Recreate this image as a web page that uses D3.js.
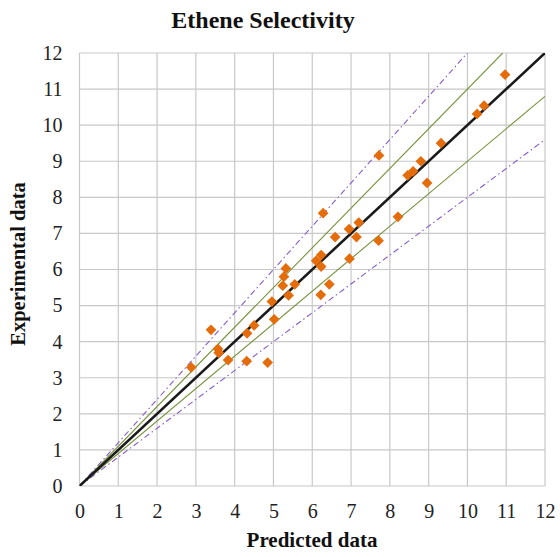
<!DOCTYPE html>
<html>
<head>
<meta charset="utf-8">
<script src="https://cdn.jsdelivr.net/npm/d3@7/dist/d3.min.js"></script>
<style>
  html, body { margin: 0; padding: 0; background: #fff; }
  svg { display: block; font-family: "Liberation Serif", "Times New Roman", serif; }
</style>
</head>
<body>
<svg id="chart" width="560" height="557"></svg>
<script>
// Predicted vs experimental ethene selectivity
const predicted = [2.88, 3.39, 3.57, 3.59, 3.83, 4.31, 4.85, 4.32, 4.50, 5.02,
                   4.96, 5.24, 5.27, 5.32, 5.39, 5.55, 6.44, 6.22, 6.10, 6.23,
                   6.23, 6.96, 6.59, 7.14, 7.71, 6.95, 7.20, 6.28, 8.21, 7.72,
                   8.96, 8.46, 8.60, 8.80, 9.32, 10.25, 10.43, 10.97];
const experimental = [3.29, 4.33, 3.80, 3.69, 3.49, 3.46, 3.42, 4.23, 4.45, 4.62,
                      5.11, 5.55, 5.80, 6.03, 5.28, 5.59, 5.59, 5.30, 6.24, 6.40,
                      6.08, 6.30, 6.90, 6.90, 6.80, 7.12, 7.30, 7.56, 7.46, 9.16,
                      8.40, 8.61, 8.72, 9.00, 9.50, 10.31, 10.54, 11.40];
const axisTicks = [0, 1, 2, 3, 4, 5, 6, 7, 8, 9, 10, 11, 12];
// Reference lines through the origin: parity, ±10 %, ±20 %
const refSlopes = [1.0, 1.1, 0.9, 1.2, 0.8];

const svg = d3.select("#chart");
const plotL = 79.5, plotR = 545, plotT = 53, plotB = 486;

const x = d3.scaleLinear().domain([0, 12]).range([plotL, plotR]);
const y = d3.scaleLinear().domain([0, 12]).range([plotB, plotT]);

// Gridlines
svg.append("g").selectAll("line").data(axisTicks).join("line")
  .attr("x1", d => x(d)).attr("x2", d => x(d))
  .attr("y1", y(0)).attr("y2", y(12))
  .attr("stroke", "#c8c8c8").attr("stroke-width", 1.2);
svg.append("g").selectAll("line").data(axisTicks).join("line")
  .attr("x1", x(0)).attr("x2", x(12))
  .attr("y1", d => y(d)).attr("y2", d => y(d))
  .attr("stroke", "#c8c8c8").attr("stroke-width", 1.2);

// Axis tick labels
const xAxis = d3.axisBottom(x).tickValues(axisTicks).tickSize(0).tickPadding(18);
const yAxis = d3.axisLeft(y).tickValues(axisTicks).tickSize(0).tickPadding(17);
const gx = svg.append("g").attr("transform", `translate(0,${plotB})`).call(xAxis);
const gy = svg.append("g").attr("transform", `translate(${plotL},0)`).call(yAxis);
[gx, gy].forEach(g => {
  g.select(".domain").remove();
  g.selectAll("text").attr("font-family", "Liberation Serif, serif")
    .attr("font-size", 20).attr("fill", "#222");
});

// Clip for reference lines
svg.append("clipPath").attr("id", "plotClip").append("rect")
  .attr("x", plotL).attr("y", plotT).attr("width", plotR - plotL).attr("height", plotB - plotT);

const lineStyle = {
  1.0: { stroke: "#1a1a1a", width: 2.6, dash: null },
  1.1: { stroke: "#77933c", width: 1.1, dash: null },
  0.9: { stroke: "#77933c", width: 1.1, dash: null },
  1.2: { stroke: "#8a5cc8", width: 1.1, dash: "6,3,1.5,3" },
  0.8: { stroke: "#8a5cc8", width: 1.1, dash: "6,3,1.5,3" }
};
const lg = svg.append("g").attr("clip-path", "url(#plotClip)");
refSlopes.slice().reverse().forEach(k => {
  const s = lineStyle[k];
  const xEnd = Math.min(12, 12 / k);
  lg.append("line")
    .attr("x1", x(0)).attr("y1", y(0))
    .attr("x2", x(xEnd)).attr("y2", y(xEnd * k))
    .attr("stroke", s.stroke).attr("stroke-width", s.width)
    .attr("stroke-dasharray", s.dash);
});

// Data markers (diamonds)
const pts = predicted.map((p, i) => [p, experimental[i]]);
svg.append("g").selectAll("path").data(pts).join("path")
  .attr("transform", d => `translate(${x(d[0])},${y(d[1])}) rotate(45)`)
  .attr("d", "M-3.8,-3.8H3.8V3.8H-3.8Z")
  .attr("fill", "#e46c0a");

// Titles
svg.append("text").attr("x", 263).attr("y", 28).attr("text-anchor", "middle")
  .attr("font-size", 24).attr("font-weight", "bold").attr("fill", "#111")
  .text("Ethene Selectivity");
svg.append("text").attr("x", 312).attr("y", 547).attr("text-anchor", "middle")
  .attr("font-size", 21).attr("font-weight", "bold").attr("fill", "#111")
  .text("Predicted data");
svg.append("text").attr("transform", `translate(25,264) rotate(-90)`)
  .attr("text-anchor", "middle")
  .attr("font-size", 20.5).attr("font-weight", "bold").attr("fill", "#111")
  .text("Experimental data");
</script>
</body>
</html>
